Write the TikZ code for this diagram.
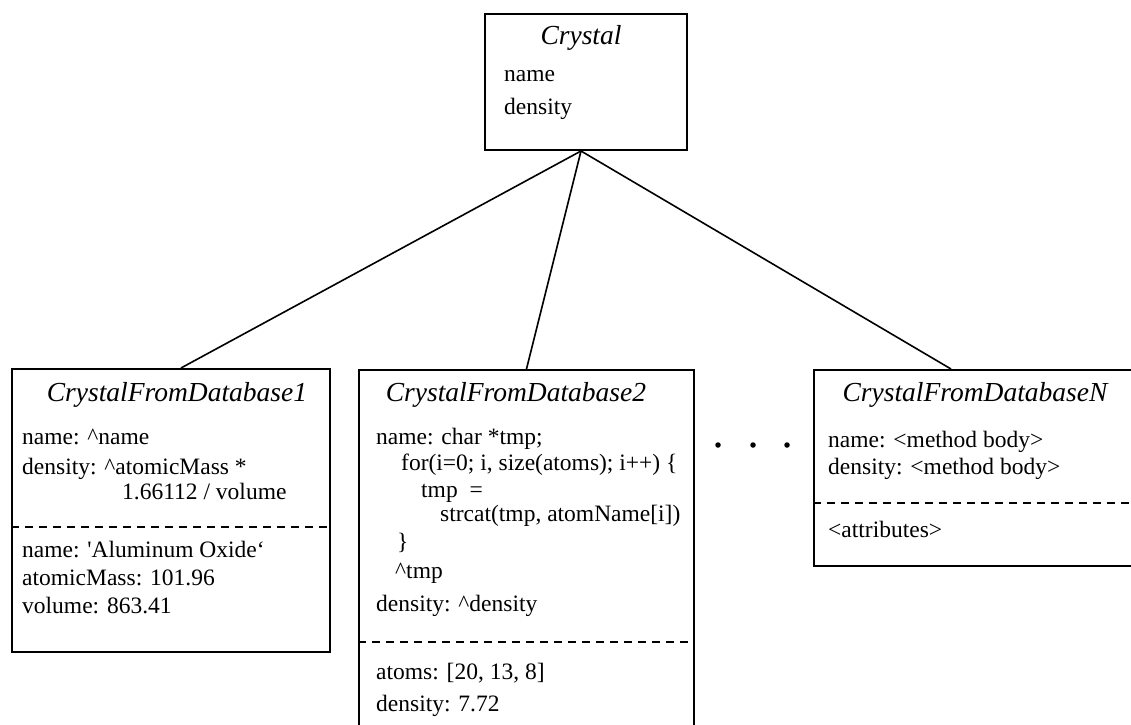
\documentclass[tikz,border=0pt]{standalone}
\usepackage{fontspec}
\setmainfont{Liberation Serif}
\begin{document}
\begin{tikzpicture}[x=1pt,y=-1pt,
  classbox/.style={draw, line width=2pt, anchor=north west, inner sep=0pt},
  ctitle/.style={anchor=base, inner sep=0pt, font=\fontsize{27.5}{30}\selectfont\itshape},
  attr/.style={anchor=base west, inner sep=0pt, font=\fontsize{23.5}{26}\selectfont},
  sep/.style={line width=1.8pt, dash pattern=on 8pt off 6pt},
  link/.style={line width=1.6pt},
  dot/.style={circle, fill, inner sep=0pt, minimum size=5.5pt}]
\useasboundingbox (0,0) rectangle (1131,724);

% class boxes
\node[classbox, minimum width=202pt, minimum height=136pt] (crystal) at (484,13) {};
\node[classbox, minimum width=318pt, minimum height=283pt] (db1) at (11,368) {};
\node[classbox, minimum width=335pt, minimum height=370pt] (db2) at (358,369) {};
\node[classbox, minimum width=330pt, minimum height=196pt] (dbn) at (813,369) {};

% generalisation links
\draw[link] ([xshift=-5pt]crystal.south) -- ([xshift=10pt]db1.north);
\draw[link] ([xshift=-5pt]crystal.south) -- (db2.north);
\draw[link] ([xshift=-5pt]crystal.south) -- ([xshift=-28pt]dbn.north);

% Crystal
\node[ctitle] (c-title) at (581,44) {Crystal};
\node[attr] (c-name) at (504,81) {name};
\node[attr] (c-dens) at (504,114) {density};

% CrystalFromDatabase1
\node[ctitle] (d1-title) at (177,401) {CrystalFromDatabase1};
\node[attr] (d1-name) at (22,444) {name: \textasciicircum name};
\node[attr] (d1-dens) at (22,474) {density: \textasciicircum atomicMass *};
\node[attr] (d1-dens2) at (122,499) {1.66112 / volume};
\coordinate (s1) at (0,527);
\draw[sep] (db1.west |- s1) -- (db1.east |- s1);
\node[attr] (d1-a1) at (22,557) {name: \textquotesingle Aluminum Oxide`};
\node[attr] (d1-a2) at (22,585) {atomicMass: 101.96};
\node[attr] (d1-a3) at (22,613) {volume: 863.41};

% CrystalFromDatabase2
\node[ctitle] (d2-title) at (516,401) {CrystalFromDatabase2};
\node[attr] (d2-name) at (376,444) {name: char *tmp;};
\node[attr] (d2-for) at (401,470) {for(i=0; i, size(atoms); i++) \{};
\node[attr] (d2-tmp) at (421,497) {tmp \ =};
\node[attr] (d2-cat) at (440,521) {strcat(tmp, atomName[i])};
\node[attr] (d2-close) at (397,549) {\}};
\node[attr] (d2-ret) at (395,578) {\textasciicircum tmp};
\node[attr] (d2-dens) at (376,611) {density: \textasciicircum density};
\coordinate (s2) at (0,642);
\draw[sep] (db2.west |- s2) -- (db2.east |- s2);
\node[attr] (d2-a1) at (376,679) {atoms: [20, 13, 8]};
\node[attr] (d2-a2) at (376,711) {density: 7.72};

% ellipsis between the subclasses
\node[dot] (e1) at (718,445) {};
\node[dot] (e2) at (753,445) {};
\node[dot] (e3) at (787,445) {};

% CrystalFromDatabaseN
\node[ctitle] (dn-title) at (975,401) {CrystalFromDatabaseN};
\node[attr] (dn-name) at (828,447) {name: <method body>};
\node[attr] (dn-dens) at (828,474) {density: <method body>};
\coordinate (s3) at (0,503);
\draw[sep] (dbn.west |- s3) -- (dbn.east |- s3);
\node[attr] (dn-a1) at (828,537) {<attributes>};
\end{tikzpicture}
\end{document}
